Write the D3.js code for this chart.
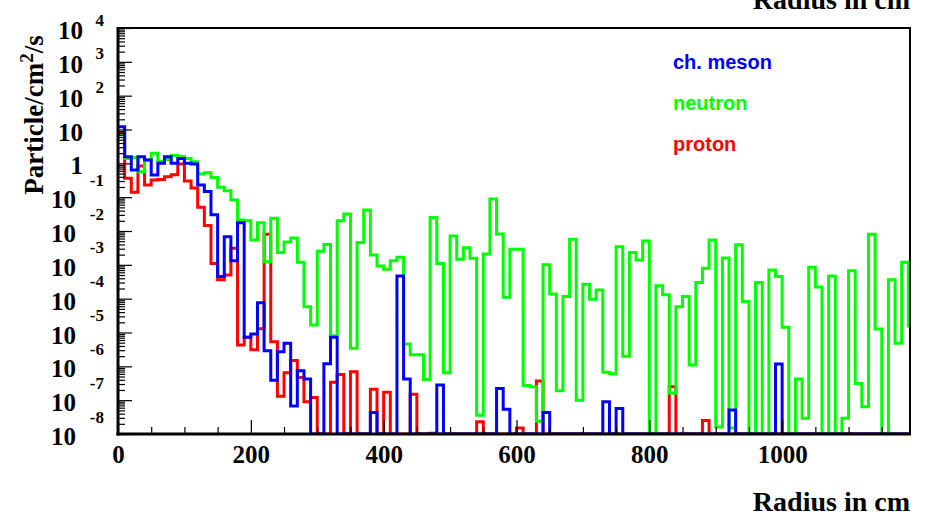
<!DOCTYPE html>
<html>
<head>
<meta charset="utf-8">
<script src="https://cdn.jsdelivr.net/npm/d3@7/dist/d3.min.js"></script>
<style>
  html, body { margin: 0; padding: 0; background: #ffffff; }
  svg { display: block; }
</style>
</head>
<body>
<svg id="chart" width="932" height="517"></svg>
<script>
// Radial particle flux histograms, 10 cm bins from r = 0.
const binWidth = 10;
const xTicks = [0, 200, 400, 600, 800, 1000];
const xMinorStep = 50;
const yExponents = [-8, -7, -6, -5, -4, -3, -2, -1, 0, 1, 2, 3, 4];
const seriesNames = ["ch. meson", "neutron", "proton"];
const seriesColors = ["#0000ff", "#00ff00", "#ff0000"];

// particles / cm^2 / s per bin (0 = empty bin)
const mesonFlux = [
  12, 1.57, 0.64, 1.57, 1.25, 0.45, 1.0, 1.57, 1.0, 1.4,
  1.0, 0.95, 0.23, 0.146, 0.030, 4.5e-4, 6.8e-3, 1.33e-3, 0.0176, 7.2e-6,
  9e-6, 7.6e-5, 2.9e-6, 3.9e-7, 2.7e-6, 4.8e-6, 6.7e-8, 7.4e-7, 4.2e-7, 0,
  0, 1.2e-6, 7.2e-6, 0, 0, 0, 0, 0, 4.3e-8, 0,
  0, 0, 4.7e-4, 4.2e-7, 0, 0, 0, 0, 2.8e-7, 0,
  0, 0, 0, 0, 0, 0, 0, 2.2e-7, 5.4e-8, 0,
  0, 0, 0, 0, 4.3e-8, 0, 0, 0, 0, 0,
  0, 0, 0, 9e-8, 0, 5.7e-8, 0, 0, 0, 0,
  0, 0, 0, 0, 0, 0, 0, 0, 0, 0,
  0, 0, 5.1e-8, 0, 0, 0, 0, 0, 0, 1.17e-6,
  0, 0, 0, 0, 0, 0, 0, 0, 0, 0,
  0, 0, 0, 0, 0, 0, 0, 0, 0, 0
];
const neutronFlux = [
  7, 1.4, 1.5, 0.56, 1.25, 2.0, 1.15, 1.3, 1.7, 1.6,
  1.4, 1.12, 0.48, 0.53, 0.38, 0.195, 0.155, 0.083, 0.021, 0.020,
  5.4e-3, 0.0176, 1.23e-3, 0.024, 2.3e-3, 4.7e-3, 6.2e-3, 1.2e-3, 5.8e-5, 1.67e-5,
  2.5e-3, 4.0e-3, 8e-6, 0.020, 0.032, 3.4e-6, 4.6e-3, 0.042, 1.95e-3, 9.2e-4,
  7.4e-4, 1.33e-3, 1.67e-3, 4.6e-6, 2.2e-6, 2.2e-6, 4.1e-7, 0.025, 1.1e-3, 6.5e-7,
  7.1e-3, 1.46e-3, 3.2e-3, 1.56e-3, 3.6e-8, 2.1e-3, 0.089, 8.2e-3, 1.1e-4, 2.9e-3,
  2.9e-3, 2.7e-7, 2.5e-7, 2.4e-8, 1.0e-3, 1.37e-4, 1.9e-7, 1.15e-4, 5.7e-3, 1.0e-7,
  2.65e-4, 9.6e-5, 1.8e-4, 6.7e-7, 6.0e-7, 3.4e-3, 2.0e-6, 2.3e-3, 1.4e-3, 5.1e-3,
  0, 2.4e-4, 1.3e-4, 1.6e-7, 5.8e-5, 1.15e-4, 1.1e-6, 3.0e-4, 7.9e-4, 5.4e-3,
  1.6e-8, 1.6e-3, 1.5e-8, 3.9e-3, 8.2e-5, 0, 3.0e-4, 0, 7.0e-4, 4.5e-4,
  1.42e-5, 0, 4.2e-7, 2.9e-8, 8.5e-4, 2.2e-4, 0, 4.7e-4, 0, 2.9e-8,
  6.7e-4, 3.1e-7, 6.4e-8, 8.0e-3, 1.27e-5, 0, 3.6e-4, 4.8e-6, 1.2e-3, 1.56e-5
];
const protonFlux = [
  8, 0.36, 0.14, 0.84, 0.23, 0.32, 0.33, 0.40, 0.46, 0.95,
  0.30, 0.186, 0.05, 0.0145, 1.1e-3, 3.6e-4, 5e-4, 3.1e-3, 4.3e-6, 7.2e-6,
  3.1e-6, 1.3e-5, 8.0e-3, 5.3e-6, 1.3e-7, 6.5e-7, 1.5e-6, 4.7e-7, 9e-8, 1.2e-7,
  0, 0, 3.4e-7, 5.7e-7, 0, 6.9e-7, 0, 0, 2.1e-7, 0,
  1.7e-7, 0, 0, 0, 1.5e-7, 0, 0, 1.05e-8, 0, 0,
  0, 0, 0, 0, 2.3e-8, 0, 0, 0, 0, 0,
  1.5e-8, 0, 0, 3.7e-7, 0, 0, 0, 0, 0, 0,
  0, 0, 0, 0, 0, 0, 0, 0, 0, 0,
  0, 0, 0, 2.5e-7, 0, 0, 0, 0, 2.5e-8, 0,
  0, 0, 0, 0, 0, 0, 0, 0, 0, 0,
  0, 0, 0, 0, 0, 0, 0, 0, 0, 0,
  0, 0, 0, 0, 0, 0, 0, 0, 0, 0
];

const W = 932, H = 517;
const plot = { left: 118, right: 910, top: 28, bottom: 434 };
const xMax = 1192.5;
const yMin = 1e-8, yMax = 1e4;

const svg = d3.select("#chart");
svg.append("rect").attr("width", W).attr("height", H).attr("fill", "#fff");

const x = d3.scaleLinear().domain([0, xMax]).range([plot.left, plot.right]);
const y = d3.scaleLog().domain([yMin, yMax]).range([plot.bottom, plot.top]).clamp(true);

svg.append("clipPath").attr("id", "plotArea")
  .append("rect")
  .attr("x", plot.left).attr("y", plot.top)
  .attr("width", plot.right - plot.left).attr("height", plot.bottom - plot.top);

// histogram outlines (step lines)
const step = d3.line()
  .x(d => x(d[0]))
  .y(d => y(d[1] > 0 ? d[1] : yMin))
  .curve(d3.curveStepAfter);

function histPoints(vals) {
  const pts = vals.map((v, i) => [i * binWidth, v]);
  pts.push([vals.length * binWidth, vals[vals.length - 1]]);
  return pts;
}

const gHist = svg.append("g").attr("clip-path", "url(#plotArea)");
const drawOrder = [
  { vals: protonFlux, color: seriesColors[2] },
  { vals: neutronFlux, color: seriesColors[1] },
  { vals: mesonFlux, color: seriesColors[0] }
];
drawOrder.forEach(s => {
  gHist.append("path")
    .attr("d", step(histPoints(s.vals)))
    .attr("fill", "none")
    .attr("stroke", s.color)
    .attr("stroke-width", 3)
    .attr("stroke-linejoin", "miter");
});

// frame
svg.append("rect")
  .attr("x", plot.left).attr("y", plot.top)
  .attr("width", plot.right - plot.left).attr("height", plot.bottom - plot.top)
  .attr("fill", "none").attr("stroke", "#000").attr("stroke-width", 2);

const serif = "'Liberation Serif', 'Times New Roman', serif";
const sans = "'Liberation Sans', Arial, sans-serif";

// y axis: major and minor ticks pointing into the plot
const yMinor = [];
yExponents.slice(0, -1).forEach(e => {
  for (let m = 2; m <= 9; m++) yMinor.push(m * Math.pow(10, e));
});
const yMajor = yExponents.map(e => Math.pow(10, e));

const yAxisMinor = svg.append("g").attr("transform", `translate(${plot.left},0)`)
  .call(d3.axisLeft(y).tickValues(yMinor).tickSize(-7).tickFormat(""));
const yAxisMajor = svg.append("g").attr("transform", `translate(${plot.left},0)`)
  .call(d3.axisLeft(y).tickValues(yMajor).tickSize(-14).tickFormat(""));
[yAxisMinor, yAxisMajor].forEach(g => {
  g.select(".domain").remove();
  g.selectAll(".tick line").attr("stroke", "#000").attr("stroke-width", 1.2);
});

// y tick labels as 10^n
yAxisMajor.selectAll(".tick").each(function (d) {
  const e = Math.round(Math.log10(d));
  const g = d3.select(this);
  const base = e === 0 ? "1" : "10";
  const baseRight = e < 0 ? -42 : -35;
  g.append("text")
    .attr("x", baseRight).attr("y", 10.5)
    .attr("text-anchor", "end")
    .attr("font-family", serif).attr("font-weight", "bold").attr("font-size", 25)
    .attr("fill", "#000")
    .text(base);
  if (e !== 0 && e !== 1) {
    g.append("text")
      .attr("x", -14).attr("y", e < 0 ? -12 : -3)
      .attr("text-anchor", "end")
      .attr("font-family", serif).attr("font-weight", "bold").attr("font-size", 17)
      .attr("fill", "#000")
      .text(String(e));
  }
});

// x axis
const xMinor = d3.range(0, xMax, xMinorStep).filter(v => v % 200 !== 0);
const xAxisMinor = svg.append("g").attr("transform", `translate(0,${plot.bottom})`)
  .call(d3.axisBottom(x).tickValues(xMinor).tickSize(-7).tickFormat(""));
const xAxisMajor = svg.append("g").attr("transform", `translate(0,${plot.bottom})`)
  .call(d3.axisBottom(x).tickValues(xTicks).tickSize(-14).tickPadding(11).tickFormat(d3.format("d")));
[xAxisMinor, xAxisMajor].forEach(g => {
  g.select(".domain").remove();
  g.selectAll(".tick line").attr("stroke", "#000").attr("stroke-width", 1.2);
});
xAxisMajor.selectAll(".tick text")
  .attr("font-family", serif).attr("font-weight", "bold").attr("font-size", 25)
  .attr("fill", "#000");

// heavier axis lines on the left and bottom
svg.append("line")
  .attr("x1", plot.left).attr("x2", plot.left)
  .attr("y1", plot.top - 1).attr("y2", plot.bottom + 1.5)
  .attr("stroke", "#000").attr("stroke-width", 3);
svg.append("line")
  .attr("x1", plot.left - 1.5).attr("x2", plot.right + 1)
  .attr("y1", plot.bottom).attr("y2", plot.bottom)
  .attr("stroke", "#000").attr("stroke-width", 3);

// axis titles
const xTitle = "Radius in cm";
svg.append("text")
  .attr("x", plot.right).attr("y", 511)
  .attr("text-anchor", "end")
  .attr("font-family", serif).attr("font-weight", "bold").attr("font-size", 28)
  .attr("fill", "#000").text(xTitle);
svg.append("text")
  .attr("x", plot.right).attr("y", 9)
  .attr("text-anchor", "end")
  .attr("font-family", serif).attr("font-weight", "bold").attr("font-size", 28)
  .attr("fill", "#000").text(xTitle);

const yTitle = svg.append("text")
  .attr("transform", "translate(43,115) rotate(-90)")
  .attr("text-anchor", "middle")
  .attr("font-family", serif).attr("font-weight", "bold").attr("font-size", 27)
  .attr("fill", "#000");
yTitle.append("tspan").text("Particle/cm");
yTitle.append("tspan").attr("font-size", 19).attr("dy", -10).text("2");
yTitle.append("tspan").attr("dy", 10).text("/s");

// legend labels
const legendY = [69, 110, 151];
seriesNames.forEach((name, i) => {
  svg.append("text")
    .attr("x", 673).attr("y", legendY[i])
    .attr("font-family", sans).attr("font-weight", "bold").attr("font-size", 20)
    .attr("fill", seriesColors[i])
    .text(name);
});
</script>
</body>
</html>
